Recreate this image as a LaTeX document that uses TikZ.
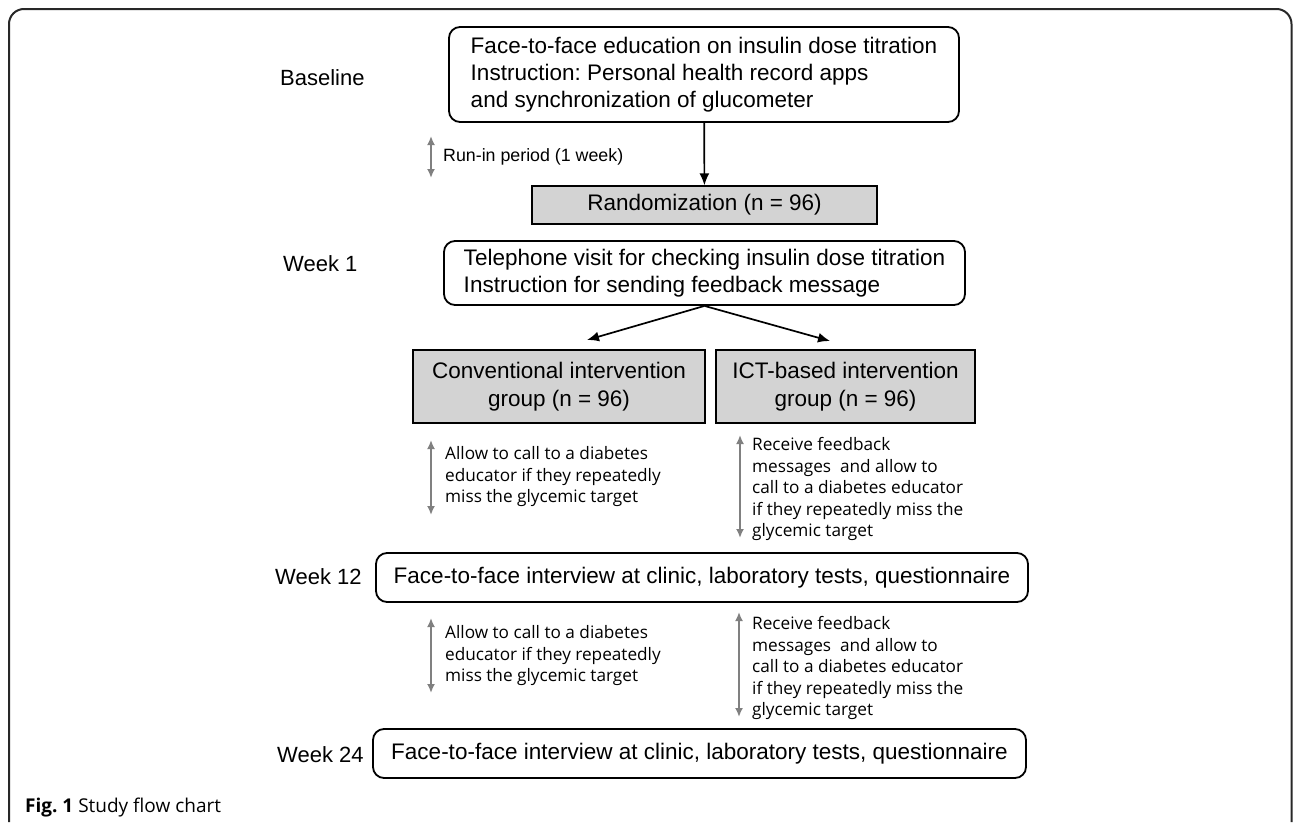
\documentclass[tikz,border=0pt]{standalone}
\usepackage{fontspec}
\setmainfont{Liberation Sans}
\newfontfamily\notefont{Open Sans}
\usetikzlibrary{arrows,arrows.meta}
\frenchspacing
\definecolor{boxgray}{RGB}{211,211,211}
\definecolor{arrowgray}{RGB}{128,128,128}
\definecolor{framegray}{RGB}{40,40,40}
\tikzset{%
	block/.style     = {draw, line width=1.8pt, rectangle, rounded corners=11pt, inner sep=0pt,
		align=left, font=\fontsize{22.5}{27}\selectfont},
	grayblock/.style = {draw, line width=1.3pt, rectangle, fill=boxgray, inner sep=0pt,
		align=center, font=\fontsize{22.5}{28}\selectfont},
	stage/.style     = {anchor=west, inner sep=0pt, font=\fontsize{22}{26}\selectfont}, % Week labels
	note/.style      = {anchor=west, inner sep=0pt, align=left, font=\notefont\fontsize{17.2}{21.5}\selectfont},
	period/.style    = {arrowgray, line width=1.8pt, {Latex[length=9pt,width=8pt]}-{Latex[length=9pt,width=8pt]}}, % gray double arrow
	flow/.style      = {line width=1.7pt, -{Latex[length=12pt,width=10pt]}}
}

\begin{document}
\begin{tikzpicture}[x=1pt,y=-1pt]
                \useasboundingbox (0,0) rectangle (1293,822);
                \draw[framegray, line width=2pt, rounded corners=15pt] (9,822) -- (9,9) -- (1291.5,9) -- (1291.5,822);

                % stages
                \node[stage] (base)   at (280,78)  {Baseline};
                \node[stage] (week1)  at (283,264) {Week 1};
                \node[stage] (week12) at (275,577) {Week 12};
                \node[stage] (week24) at (277,755) {Week 24};

                % boxes
                \node[block, minimum width=510pt, minimum height=95pt] (edu) at (704,74.5)
                    {Face-to-face education on insulin dose titration\\Instruction: Personal health record apps\\and synchronization of glucometer};
                \node[grayblock, minimum width=345pt, minimum height=38pt] (rand) at (704.5,205) {Randomization (n = 96)};
                \node[block, minimum width=521pt, minimum height=64pt] (tel) at (704.5,273)
                    {Telephone visit for checking insulin dose titration\\Instruction for sending feedback message};
                \node[grayblock, minimum width=292pt, minimum height=73pt] (conv) at (559,386.5) {Conventional intervention\\group (n = 96)};
                \node[grayblock, minimum width=259pt, minimum height=73pt] (ict) at (845.5,386.5) {ICT-based intervention\\group (n = 96)};
                \node[block, minimum width=652pt, minimum height=49pt] (visit12) at (702,577.5)
                    {Face-to-face interview at clinic, laboratory tests, questionnaire};
                \node[block, minimum width=653pt, minimum height=49pt] (visit24) at (699.5,753.5)
                    {Face-to-face interview at clinic, laboratory tests, questionnaire};

                % notes
                \node[note, font=\fontsize{17.8}{21}\selectfont] (runin) at (443,157) {Run-in period (1 week)};
                \node[note] (convA) at (445,477) {Allow to call to a diabetes\\educator if they repeatedly\\miss the glycemic target};
                \node[note] (ictA)  at (752,489) {Receive feedback\\messages~ and allow to\\call to a diabetes educator\\if they repeatedly miss the\\glycemic target};
                \node[note] (convB) at (445,656) {Allow to call to a diabetes\\educator if they repeatedly\\miss the glycemic target};
                \node[note] (ictB)  at (752,668) {Receive feedback\\messages~ and allow to\\call to a diabetes educator\\if they repeatedly miss the\\glycemic target};

                \node[anchor=west, inner sep=0pt, font=\notefont\fontsize{19}{22}\selectfont] (caption) at (25,808)
                    {\textbf{Fig. 1} Study flow chart};

                % arrow ends
                \coordinate (convtip) at (587,340);
                \coordinate (icttip)  at (830,341);
                \coordinate (runtop) at (431,136);  \coordinate (runbot) at (431,178);
                \coordinate (cAtop)  at (431,440);  \coordinate (cAbot)  at (431,515);
                \coordinate (iAtop)  at (740,435);  \coordinate (iAbot)  at (740,538);
                \coordinate (cBtop)  at (431,618);  \coordinate (cBbot)  at (431,693);
                \coordinate (iBtop)  at (739,612);  \coordinate (iBbot)  at (739,717);

                \draw[flow] (edu) -- (rand);
                \draw[flow] (tel.south) -- (convtip);
                \draw[flow] (tel.south) -- (icttip);

                \draw[period] (runtop) -- (runbot);
                \draw[period] (cAtop) -- (cAbot);
                \draw[period] (iAtop) -- (iAbot);
                \draw[period] (cBtop) -- (cBbot);
                \draw[period] (iBtop) -- (iBbot);
            \end{tikzpicture}
\end{document}
